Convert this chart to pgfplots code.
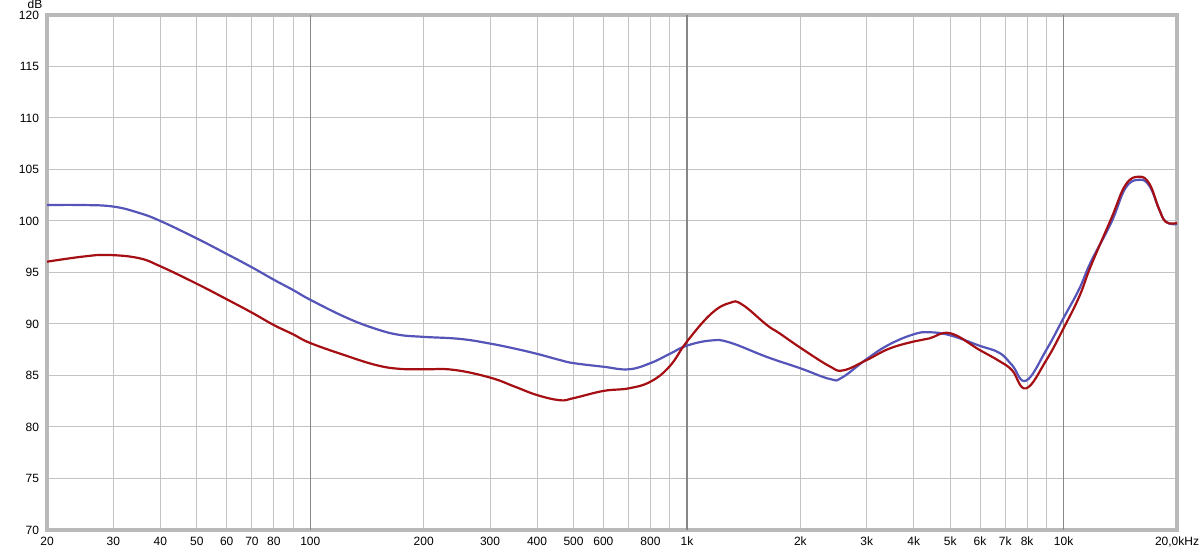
\documentclass[border=0pt]{standalone}
\usepackage{pgfplots}
\pgfplotsset{compat=1.18}
\usepackage{fontspec}
\setmainfont{Liberation Sans}
\definecolor{redc}{RGB}{165,15,20}
\definecolor{bluec}{RGB}{85,85,185}
\definecolor{framec}{RGB}{185,185,185}
\definecolor{gridc}{RGB}{195,195,195}
\definecolor{gridd}{RGB}{135,135,135}
\begin{document}
\begin{tikzpicture}
\useasboundingbox (-23.5pt,-10pt) rectangle (576.5pt,265pt);
\begin{axis}[
  scale only axis, width=565pt, height=257.5pt,
  xmode=log, xmin=20, xmax=20000, ymin=70, ymax=120,
  log basis x=10,
  xtick={20,30,40,50,60,70,80,90,200,300,400,500,600,700,800,900,2000,3000,4000,5000,6000,7000,8000,9000,20000},
  xticklabels={20,30,40,50,60,70,80,,200,300,400,500,600,,800,,2k,3k,4k,5k,6k,7k,8k,,{20,0kHz}},
  extra x ticks={100,1000,10000},
  extra x tick labels={100,1k,10k},
  extra x tick style={grid style={gridd, line width=0.6pt}},
  ytick={70,75,...,120},
  /pgf/number format/assume math mode=true,
  major tick length=0pt,
  grid=major,
  grid style={gridc, line width=0.5pt},
  axis line style={framec, line width=2pt},
  tick label style={font=\fontsize{6}{7}\selectfont, text=black},
  xticklabel style={yshift=0pt},
  yticklabel style={xshift=-0.5pt},
  clip=true,
]
\addplot[bluec, line width=1.1pt, smooth, tension=0.7] coordinates {
(20,101.55) (25,101.55) (30,101.4) (35,100.8) (40,100.0) (50,98.3) (60,96.8) (70,95.5) (80,94.3) (90,93.3) (100,92.35) (125,90.6) (150,89.5) (172,88.95) (200,88.75) (250,88.55) (300,88.1) (350,87.6) (400,87.1) (460,86.5) (500,86.2) (600,85.85) (700,85.6) (800,86.2) (900,87.1) (1000,87.9) (1160,88.4) (1300,88.2) (1630,86.8) (2000,85.7) (2400,84.65) (2580,84.8) (3000,86.6) (3440,88.0) (4000,89.0) (4400,89.2) (5000,88.9) (5970,87.9) (6750,87.2) (7300,86.0) (7950,84.5) (9000,87.5) (10000,90.6) (11000,93.4) (11800,96.0) (13400,99.9) (14600,103.2) (15850,104.0) (16900,103.4) (17900,101.2) (18700,99.9) (20000,99.7)
};
\addplot[redc, line width=1.1pt, smooth, tension=0.7] coordinates {
(20,96.05) (25,96.55) (29,96.7) (35,96.4) (40,95.6) (50,93.9) (60,92.4) (70,91.1) (80,89.9) (90,89.0) (100,88.15) (125,86.9) (150,86.0) (172,85.65) (200,85.6) (240,85.55) (300,84.8) (350,83.9) (400,83.1) (460,82.6) (500,82.8) (600,83.5) (700,83.75) (800,84.4) (900,85.9) (1000,88.3) (1160,91.0) (1300,92.05) (1400,91.9) (1630,89.9) (1760,89.1) (2000,87.7) (2390,85.9) (2600,85.5) (3000,86.5) (3440,87.6) (4000,88.3) (4400,88.6) (5000,89.1) (5970,87.5) (6750,86.4) (7300,85.5) (7950,83.75) (9000,86.5) (10000,89.6) (11000,92.65) (11800,95.6) (13400,100.3) (14600,103.5) (15850,104.3) (16900,103.6) (17900,101.2) (18700,99.9) (20000,99.8)
};
\end{axis}
\node[font=\fontsize{6}{7}\selectfont, anchor=base] at (-6pt,260.5pt) {dB};
\end{tikzpicture}
\end{document}
